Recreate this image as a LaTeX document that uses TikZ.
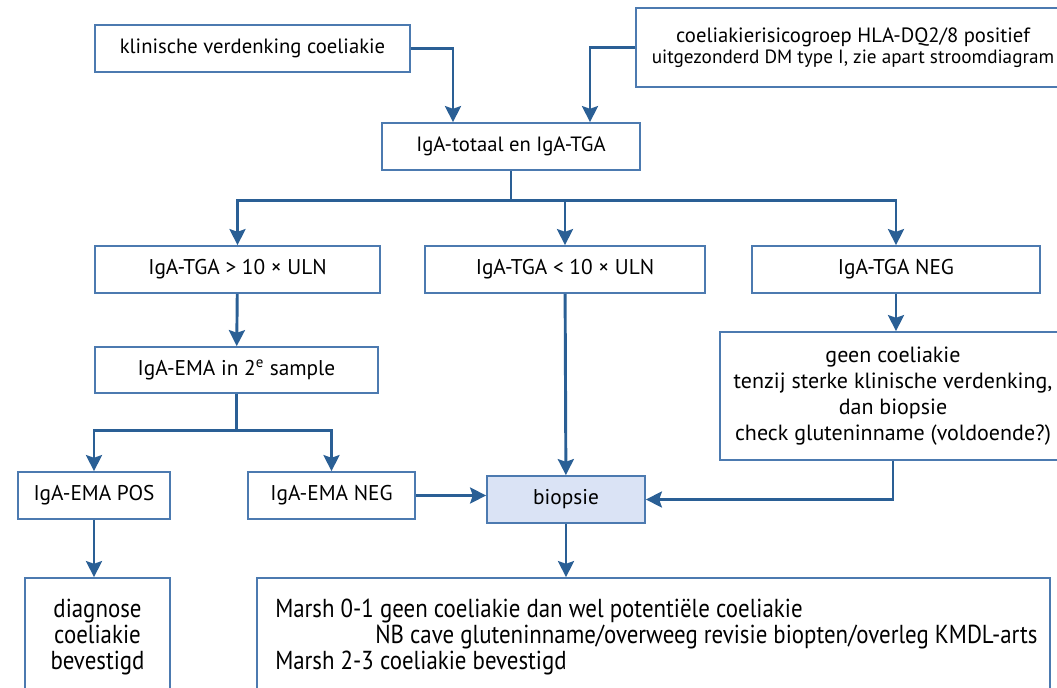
\documentclass[tikz,border=0pt]{standalone}
\usepackage{fontspec}
\setmainfont{PT Sans}
\newfontfamily\smallcond[FakeStretch=0.88]{PT Sans}
\usetikzlibrary{arrows.meta}
\definecolor{lijn}{HTML}{2A5F95}
\definecolor{rand}{HTML}{4C7AB0}
\definecolor{vlak}{HTML}{DAE3F5}

\begin{document}
\begin{tikzpicture}[>={Stealth[length=12pt,width=12pt,inset=2pt]},x=0.75pt,y=-0.75pt,
            box/.style={draw=rand,line width=1.3pt,fill=white,inner sep=0pt,align=center,font=\fontsize{16}{19.5}\selectfont},
            arr/.style={->,draw=lijn,line width=2.2pt}]
            \useasboundingbox (0,0) rectangle (1057,688);
            \clip (0,0) rectangle (1057,688);
            \node [box,minimum width=236.25pt,minimum height=35.25pt,font=\fontsize{15.5}{19}\selectfont] (klin) at (252.5,48.5) {klinische verdenking coeliakie};
            \node [box,minimum width=325.5pt,minimum height=59.25pt,font=\fontsize{15.5}{19}\selectfont] (risico) at (853,47.5) {coeliakierisicogroep HLA-DQ2/8 positief\\[-3pt]{\fontsize{14.4}{17}\selectfont uitgezonderd DM type I, zie apart stroomdiagram}};
            \node [box,minimum width=193.5pt,minimum height=35.25pt,font=\fontsize{15.5}{19}\selectfont] (totaal) at (511,146.5) {IgA-totaal en IgA-TGA};
            \node [box,minimum width=213.75pt,minimum height=35.25pt] (tgahoog) at (237.5,269.5) {IgA-TGA > 10 × ULN};
            \node [box,minimum width=210pt,minimum height=35.25pt] (tgalaag) at (565,269.5) {IgA-TGA < 10 × ULN};
            \node [box,minimum width=216pt,minimum height=35.25pt] (tganeg) at (896,269.5) {IgA-TGA NEG};
            \node [box,minimum width=212.25pt,minimum height=34.5pt] (ema) at (236.5,370) {IgA-EMA in 2\textsuperscript{e} sample};
            \node [box,minimum width=259.5pt,minimum height=96pt,font=\fontsize{16.5}{19.5}\selectfont] (geen) at (893,396) {geen coeliakie\\tenzij sterke klinische verdenking,\\dan biopsie\\check gluteninname (voldoende?)};
            \node [box,minimum width=114pt,minimum height=35.25pt] (emapos) at (94,495.5) {IgA-EMA POS};
            \node [box,minimum width=125.25pt,minimum height=35.25pt] (emaneg) at (331.5,495.5) {IgA-EMA NEG};
            \node [box,fill=vlak,minimum width=118.5pt,minimum height=35.25pt] (biopsie) at (566,499.5) {biopsie};
            \node [box,minimum width=108.75pt,minimum height=88.5pt,font=\smallcond\fontsize{19.5}{19.5}\selectfont] (diagnose) at (97.5,637) {diagnose\\coeliakie\\bevestigd};
            \node [box,minimum width=594.75pt,minimum height=88.5pt] (marsh) at (653.5,637) {};
            \node [anchor=west,inner sep=0pt,align=left,font=\smallcond\fontsize{19.5}{19.5}\selectfont] (marshtekst) at (275,637) {Marsh 0-1 geen coeliakie dan wel potentiële coeliakie\\\hspace*{75pt}NB cave gluteninname/overweeg revisie biopten/overleg KMDL-arts\\Marsh 2-3 coeliakie bevestigd};
            \draw [arr] (klin.east) -| ([xshift=-43.5pt]totaal.north);
            \draw [arr] (risico.west) -| ([xshift=59.25pt]totaal.north);
            \draw [draw=lijn,line width=2.2pt] (totaal.south) -- ++(0,30) coordinate (splits);
            \draw [arr] (splits) -| (tgahoog.north);
            \draw [arr] (splits) -| (tgalaag.north);
            \draw [arr] (splits) -| (tganeg.north);
            \draw [arr] (tgahoog) -- (ema);
            \draw [draw=lijn,line width=2.2pt] (ema.south) -- ++(0,37) coordinate (splitsema);
            \draw [arr] (splitsema) -| (emapos.north);
            \draw [arr] (splitsema) -| (emaneg.north);
            \draw [arr] (tgalaag) -- (biopsie);
            \draw [arr] (tganeg) -- (geen.north -| tganeg.south);
            \draw [arr] (geen.south) |- (biopsie.east);
            \draw [arr] (emaneg.east) -- (biopsie.west |- emaneg.east);
            \draw [arr] (emapos) -- (diagnose.north -| emapos.south);
            \draw [arr] (biopsie) -- (marsh.north -| biopsie.south);
        \end{tikzpicture}
\end{document}
